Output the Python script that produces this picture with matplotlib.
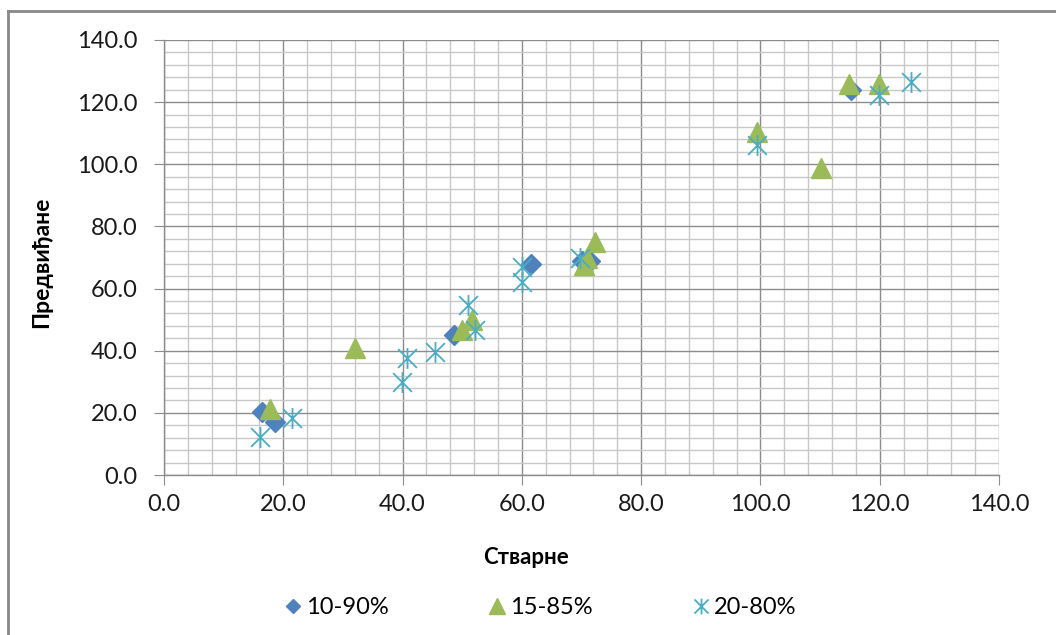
import matplotlib
matplotlib.use("Agg")
import matplotlib.pyplot as plt
from matplotlib.path import Path
from matplotlib.lines import Line2D
from matplotlib.ticker import MultipleLocator, FormatStrFormatter

plt.rcParams['font.family'] = ['Lato', 'DejaVu Sans']

# Data (Стварне vs Предвиђане)
x_10_90 = [16.4, 18.6, 48.7, 61.6, 70.0, 71.5, 115.2]
y_10_90 = [20.3, 17.0, 45.0, 67.8, 69.0, 69.0, 124.0]

x_15_85 = [17.8, 32.0, 49.9, 51.6, 70.5, 71.0, 72.2, 99.5, 110.2, 114.9, 119.9]
y_15_85 = [21.2, 41.0, 46.7, 50.0, 67.5, 70.0, 75.0, 110.5, 98.8, 126.0, 126.0]

x_20_80 = [16.1, 21.4, 39.9, 40.7, 45.4, 50.9, 52.1, 60.0, 60.1, 69.7, 99.5, 119.9, 125.3]
y_20_80 = [12.2, 18.3, 29.9, 37.7, 39.6, 54.7, 46.7, 62.1, 67.0, 69.8, 106.2, 122.3, 126.5]

labels = ['10-90%', '15-85%', '20-80%']
colors = ['#4F81BD', '#9BBB59', '#4BACC6']

# asterisk marker (vertical line + X)
star_path = Path(
    [(0, -1), (0, 1), (-0.9, -0.9), (0.9, 0.9), (-0.9, 0.9), (0.9, -0.9)],
    [Path.MOVETO, Path.LINETO, Path.MOVETO, Path.LINETO, Path.MOVETO, Path.LINETO])

fig = plt.figure(figsize=(10.56, 6.35), dpi=100)
ax = fig.add_axes([164/1056, 1-475/635, (999-164)/1056, (475-40)/635])

ax.plot(x_10_90, y_10_90, linestyle='none', marker='D', markersize=10,
        color=colors[0], label=labels[0], zorder=3)
ax.plot(x_15_85, y_15_85, linestyle='none', marker='^', markersize=15,
        color=colors[1], label=labels[1], zorder=4)
ax.plot(x_20_80, y_20_80, linestyle='none', marker=star_path, markersize=15,
        markerfacecolor='none', markeredgecolor=colors[2], markeredgewidth=1.3,
        label=labels[2], zorder=5)

ax.set_xlim(0, 140)
ax.set_ylim(0, 140)
for axis in (ax.xaxis, ax.yaxis):
    axis.set_major_locator(MultipleLocator(20))
    axis.set_minor_locator(MultipleLocator(4))
    axis.set_major_formatter(FormatStrFormatter('%.1f'))

ax.grid(which='major', color='#8c8c8c', linewidth=1.0, zorder=1)
ax.grid(which='minor', color='#c8c8c8', linewidth=1.0, zorder=1)
ax.set_axisbelow(True)

for s in ['top', 'right']:
    ax.spines[s].set_visible(False)
for s in ['left', 'bottom']:
    ax.spines[s].set_color('#8c8c8c')
    ax.spines[s].set_linewidth(1.0)

ax.tick_params(which='major', direction='out', length=7, color='#8c8c8c',
               labelsize=17, labelcolor='#1a1a1a')
ax.tick_params(axis='y', which='major', pad=12)
ax.tick_params(axis='x', which='major', pad=7)
ax.tick_params(which='minor', length=0)

ax.set_xlabel('Стварне', fontsize=16, fontweight='bold')
ax.set_ylabel('Предвиђане', fontsize=16.5, fontweight='bold')
ax.xaxis.set_label_coords((526-164)/(999-164), -(557-475)/(475-40))
ax.yaxis.set_label_coords(-(164-42)/(999-164), (475-262)/(475-40))
ax.xaxis.label.set_va('center')
ax.yaxis.label.set_va('center')

fig.legend(loc='center', bbox_to_anchor=(540/1056, 1-608/635), ncol=3,
           frameon=False, fontsize=17, columnspacing=4.2, handletextpad=0.15,
           handlelength=0.8, markerscale=0.75)

# outer chart border (left and top visible)
fig.add_artist(Line2D([8/1056, 8/1056], [0, 1-11/635], transform=fig.transFigure,
                      color='#888888', linewidth=2))
fig.add_artist(Line2D([8/1056, 1], [1-11/635, 1-11/635], transform=fig.transFigure,
                      color='#888888', linewidth=2))

fig.savefig('out.png', dpi=100)
